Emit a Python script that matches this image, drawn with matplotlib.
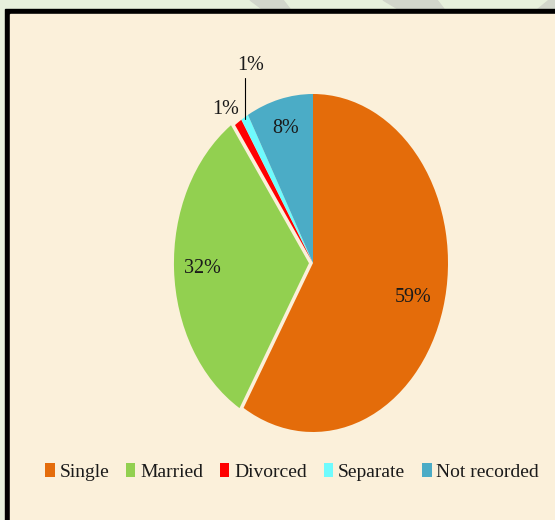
import numpy as np
import matplotlib
matplotlib.use('Agg')
import matplotlib.pyplot as plt
from matplotlib.patches import Rectangle, Polygon

# Marital status shares (%)
categories = ['Single', 'Married', 'Divorced', 'Separate', 'Not recorded']
shares = [58.6, 31.6, 0.9, 0.9, 8.0]
pct_labels = ['59%', '32%', '1%', '1%', '8%']
colors = ['#E46C0A', '#92D050', '#FF0000', '#6FFBFD', '#4BACC6']

W, H = 555, 520
plt.rcParams['font.family'] = ['Liberation Serif', 'DejaVu Serif']
fig = plt.figure(figsize=(W / 100, H / 100), dpi=100)

# background in pixel coordinates
bg = fig.add_axes([0, 0, 1, 1], zorder=0)
bg.set_xlim(0, W)
bg.set_ylim(H, 0)
bg.axis('off')
bg.add_patch(Rectangle((0, 0), W, H, color='#E7F0DC'))
for pts in ([(250, 0), (283, 0), (290, 9), (262, 9)],
            [(383, 0), (437, 0), (444, 9), (398, 9)],
            [(548, 0), (555, 0), (555, 9), (537, 9)]):
    bg.add_patch(Polygon(pts, closed=True, color='#D2D6CB'))
bg.add_patch(Rectangle((5, 9), W + 10, H + 10, color='black'))
bg.add_patch(Rectangle((10, 14), W + 10, H + 10, color='#FBF0DA'))

# pie axes (chart is stretched vertically, so aspect is left free)
cx, cy, rx, ry = 313, 263, 135, 169
ax = fig.add_axes([(cx - rx) / W, 1 - (cy + ry) / H, 2 * rx / W, 2 * ry / H], zorder=1)
wedges, _ = ax.pie(shares, colors=colors, startangle=90, counterclock=False,
                   explode=[0, 0.03, 0, 0, 0],
                   wedgeprops=dict(linewidth=0))
ax.set_aspect('auto')
ax.set_xlim(-1, 1)
ax.set_ylim(-1, 1)
ax.axis('off')

txt = dict(fontsize=14.5, color='#1A1A1A', ha='center', va='center')
# inner labels
for i, r in [(0, 0.77), (1, 0.82), (4, 0.82)]:
    w = wedges[i]
    a = np.radians((w.theta1 + w.theta2) / 2)
    ax.text(r * np.cos(a), r * np.sin(a), pct_labels[i], **txt)

# Divorced: outside label
w = wedges[2]
a = np.radians((w.theta1 + w.theta2) / 2)
ax.text(1.13 * np.cos(a) - 0.02, 1.13 * np.sin(a) - 0.03, pct_labels[2], **txt)

# Separate: label with leader line
w = wedges[3]
a = np.radians((w.theta1 + w.theta2) / 2)
x0, y0 = 0.99 * np.cos(a), 0.99 * np.sin(a)
ax.annotate(pct_labels[3], xy=(x0, y0), xytext=(x0 + 0.04, 1.17),
            arrowprops=dict(arrowstyle='-', color='black', lw=0.8,
                            shrinkA=0, shrinkB=0,
                            connectionstyle='angle,angleA=0,angleB=90,rad=0',
                            relpos=(0.0, 0.0)),
            annotation_clip=False, **txt)

leg = fig.legend(wedges, categories, loc='center', ncol=5, frameon=False,
                 bbox_to_anchor=(292 / W, 1 - 472 / H),
                 fontsize=14, handlelength=0.5, handleheight=0.7,
                 handletextpad=0.25, columnspacing=0.85)
for t in leg.get_texts():
    t.set_color('#1A1A1A')

fig.savefig('out.png', dpi=100)
